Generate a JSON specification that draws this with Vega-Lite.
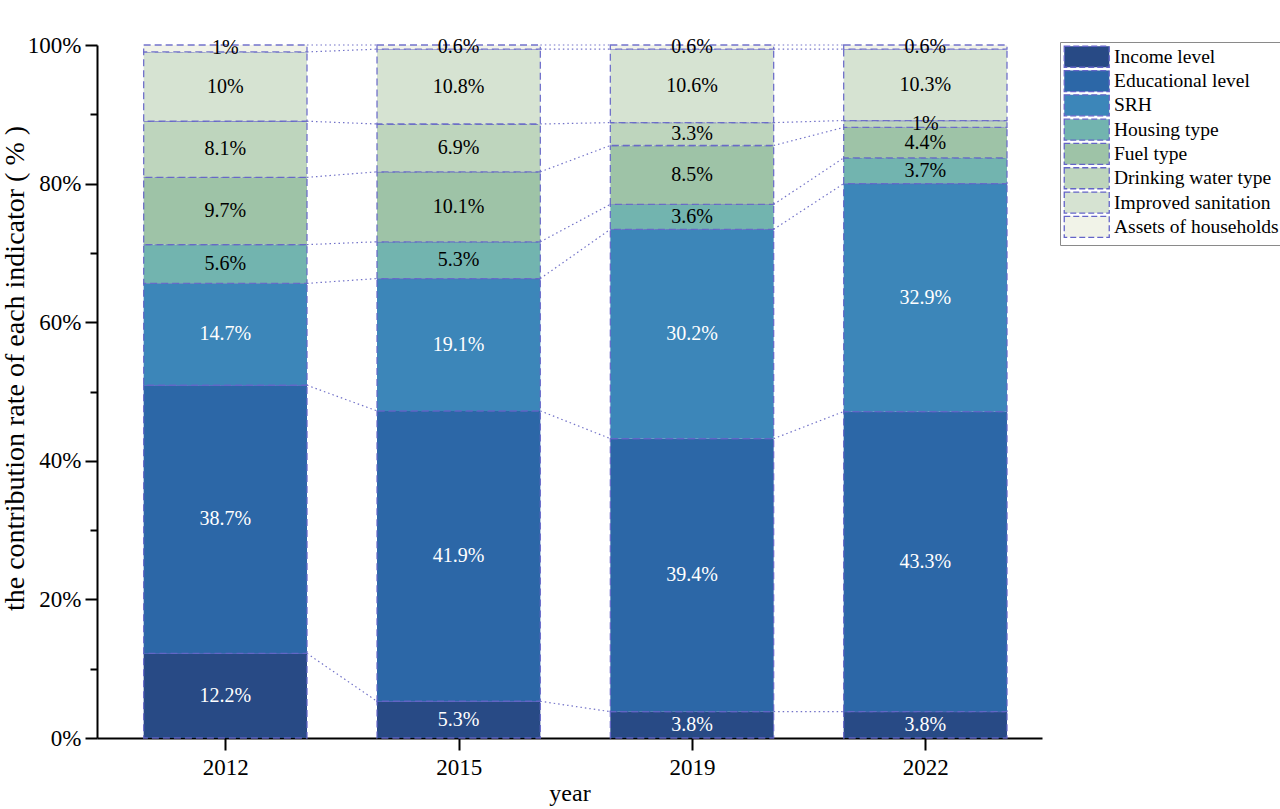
{
  "$schema": "https://vega.github.io/schema/vega-lite/v6.json",
  "width": 945,
  "height": 693,
  "autosize": "none",
  "padding": {"left": 97, "top": 45, "right": 238, "bottom": 71},
  "data": {
    "values": [
      {"year": 2012, "indicator": "Income level", "value": 12.2},
      {"year": 2012, "indicator": "Educational level", "value": 38.7},
      {"year": 2012, "indicator": "SRH", "value": 14.7},
      {"year": 2012, "indicator": "Housing type", "value": 5.6},
      {"year": 2012, "indicator": "Fuel type", "value": 9.7},
      {"year": 2012, "indicator": "Drinking water type", "value": 8.1},
      {"year": 2012, "indicator": "Improved sanitation", "value": 10},
      {"year": 2012, "indicator": "Assets of households", "value": 1},
      {"year": 2015, "indicator": "Income level", "value": 5.3},
      {"year": 2015, "indicator": "Educational level", "value": 41.9},
      {"year": 2015, "indicator": "SRH", "value": 19.1},
      {"year": 2015, "indicator": "Housing type", "value": 5.3},
      {"year": 2015, "indicator": "Fuel type", "value": 10.1},
      {"year": 2015, "indicator": "Drinking water type", "value": 6.9},
      {"year": 2015, "indicator": "Improved sanitation", "value": 10.8},
      {"year": 2015, "indicator": "Assets of households", "value": 0.6},
      {"year": 2019, "indicator": "Income level", "value": 3.8},
      {"year": 2019, "indicator": "Educational level", "value": 39.4},
      {"year": 2019, "indicator": "SRH", "value": 30.2},
      {"year": 2019, "indicator": "Housing type", "value": 3.6},
      {"year": 2019, "indicator": "Fuel type", "value": 8.5},
      {"year": 2019, "indicator": "Drinking water type", "value": 3.3},
      {"year": 2019, "indicator": "Improved sanitation", "value": 10.6},
      {"year": 2019, "indicator": "Assets of households", "value": 0.6},
      {"year": 2022, "indicator": "Income level", "value": 3.8},
      {"year": 2022, "indicator": "Educational level", "value": 43.3},
      {"year": 2022, "indicator": "SRH", "value": 32.9},
      {"year": 2022, "indicator": "Housing type", "value": 3.7},
      {"year": 2022, "indicator": "Fuel type", "value": 4.4},
      {"year": 2022, "indicator": "Drinking water type", "value": 1},
      {"year": 2022, "indicator": "Improved sanitation", "value": 10.3},
      {"year": 2022, "indicator": "Assets of households", "value": 0.6}
    ]
  },
  "transform": [
    {"calculate": "indexof([2012, 2015, 2019, 2022], datum.year)", "as": "idx"},
    {"calculate": "indexof(['Income level', 'Educational level', 'SRH', 'Housing type', 'Fuel type', 'Drinking water type', 'Improved sanitation', 'Assets of households'], datum.indicator)", "as": "ord"},
    {"stack": "value", "groupby": ["year"], "sort": [{"field": "ord"}], "as": ["y0", "y1"]},
    {"calculate": "datum.idx - 0.35", "as": "xl"},
    {"calculate": "datum.idx + 0.35", "as": "xr"},
    {"calculate": "(datum.y0 + datum.y1) / 2", "as": "ymid"},
    {"calculate": "datum.value + '%'", "as": "label"}
  ],
  "layer": [
    {
      "mark": {"type": "rect", "stroke": "#6464c8", "strokeWidth": 1.3, "strokeDash": [7, 4], "strokeOpacity": 0.9},
      "encoding": {
        "x": {
          "field": "xl", "type": "quantitative", "title": "year",
          "scale": {"domain": [-0.55, 3.5], "nice": false, "zero": false},
          "axis": {
            "values": [0, 1, 2, 3],
            "labelExpr": "['2012', '2015', '2019', '2022'][datum.value]",
            "grid": false, "tickSize": 12, "labelPadding": 6, "titlePadding": 2
          }
        },
        "x2": {"field": "xr"},
        "y": {
          "field": "y0", "type": "quantitative", "title": "the contribution rate of each indicator ( % )",
          "scale": {"domain": [0, 100], "nice": false},
          "axis": {
            "values": [0, 10, 20, 30, 40, 50, 60, 70, 80, 90, 100],
            "labelExpr": "datum.value % 20 == 0 ? datum.value + '%' : ''",
            "grid": false,
            "tickSize": {"condition": {"test": "datum.value % 20 == 0", "value": 12}, "value": 7},
            "labelPadding": 4, "titleFontSize": 28, "titleX": -68, "titleY": 323
          }
        },
        "y2": {"field": "y1"},
        "color": {
          "field": "indicator", "type": "nominal",
          "scale": {
            "domain": ["Income level", "Educational level", "SRH", "Housing type", "Fuel type", "Drinking water type", "Improved sanitation", "Assets of households"],
            "range": ["#284a85", "#2c67a7", "#3c86b9", "#72b4af", "#9ec3a7", "#bed5bd", "#d6e3d2", "#f1f3e8"]
          },
          "legend": {
            "title": null, "orient": "none", "legendX": 963, "legendY": -3,
            "symbolType": "M-3,-1.4H3V1.4H-3Z", "symbolSize": 225,
            "symbolOffset": 12,
            "symbolStrokeColor": "#6464c8", "symbolStrokeWidth": 1.3, "symbolDash": [6, 3],
            "labelFont": "Liberation Serif", "labelFontSize": 19.5, "labelColor": "black", "labelLimit": 0,
            "labelOffset": 17.5, "rowPadding": -2.7, "padding": 5,
            "strokeColor": "#8a8a8a", "fillColor": "white"
          }
        }
      }
    },
    {
      "transform": [
        {
          "window": [
            {"op": "lead", "field": "y1", "as": "ny1"},
            {"op": "lead", "field": "xl", "as": "nxl"}
          ],
          "groupby": ["indicator"],
          "sort": [{"field": "idx"}]
        },
        {"filter": "datum.ny1 != null"}
      ],
      "mark": {"type": "rule", "color": "#7272c8", "strokeWidth": 1.2, "strokeDash": [1.5, 3]},
      "encoding": {
        "x": {"field": "xr", "type": "quantitative", "title": "year"},
        "x2": {"field": "nxl"},
        "y": {"field": "y1", "type": "quantitative", "title": "the contribution rate of each indicator ( % )"},
        "y2": {"field": "ny1"}
      }
    },
    {
      "mark": {"type": "text", "font": "Liberation Serif", "fontSize": 20, "baseline": "middle", "align": "center"},
      "encoding": {
        "x": {"field": "idx", "type": "quantitative", "title": "year"},
        "y": {"field": "ymid", "type": "quantitative", "title": "the contribution rate of each indicator ( % )"},
        "text": {"field": "label"},
        "color": {"condition": {"test": "datum.ord < 3", "value": "white"}, "value": "black"}
      }
    }
  ],
  "config": {
    "view": {"stroke": null},
    "axis": {
      "labelFont": "Liberation Serif", "labelFontSize": 23, "labelColor": "black",
      "titleFont": "Liberation Serif", "titleFontSize": 24, "titleFontWeight": "normal", "titleColor": "black",
      "domainColor": "black", "domainWidth": 2, "tickColor": "black", "tickWidth": 2
    }
  }
}
